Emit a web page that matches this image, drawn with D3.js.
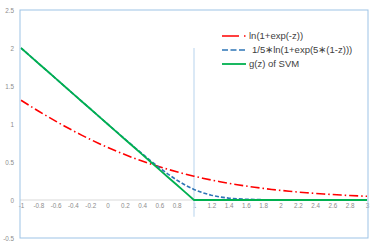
<!DOCTYPE html>
<html>
<head>
<meta charset="utf-8">
<script src="https://cdn.jsdelivr.net/npm/d3@7"></script>
<style>
  body { margin: 0; background: #fff; }
  svg { display: block; font-family: "Liberation Sans", Arial, sans-serif; }
</style>
</head>
<body>
<svg id="chart" width="382" height="245"></svg>
<script>
// categories (z values)
var zVals = [-1, -0.9, -0.8, -0.7, -0.6, -0.5, -0.4, -0.3, -0.2, -0.1, 0,
  0.1, 0.2, 0.3, 0.4, 0.5, 0.6, 0.7, 0.8, 0.9, 1,
  1.1, 1.2, 1.3, 1.4, 1.5, 1.6, 1.7, 1.8, 1.9, 2,
  2.1, 2.2, 2.3, 2.4, 2.5, 2.6, 2.7, 2.8, 2.9, 3];

// ln(1+exp(-z))
var logLoss = [1.313, 1.241, 1.171, 1.103, 1.038, 0.974, 0.913, 0.854, 0.798, 0.744, 0.693,
  0.644, 0.598, 0.554, 0.513, 0.474, 0.438, 0.403, 0.371, 0.341, 0.313,
  0.287, 0.263, 0.241, 0.220, 0.201, 0.184, 0.168, 0.153, 0.139, 0.127,
  0.116, 0.105, 0.096, 0.087, 0.079, 0.072, 0.065, 0.059, 0.054, 0.049];

// 1/5*ln(1+exp(5*(1-z)))
var softLoss = [2.000, 1.900, 1.800, 1.700, 1.600, 1.500, 1.400, 1.300, 1.201, 1.101, 1.001,
  0.902, 0.804, 0.706, 0.610, 0.516, 0.425, 0.340, 0.263, 0.195, 0.139,
  0.095, 0.063, 0.040, 0.025, 0.016, 0.010, 0.006, 0.004, 0.002, 0.001,
  0.001, 0.001, 0, 0, 0, 0, 0, 0, 0, 0];

// g(z) of SVM
var hinge = [2.0, 1.9, 1.8, 1.7, 1.6, 1.5, 1.4, 1.3, 1.2, 1.1, 1.0,
  0.9, 0.8, 0.7, 0.6, 0.5, 0.4, 0.3, 0.2, 0.1, 0,
  0, 0, 0, 0, 0, 0, 0, 0, 0, 0,
  0, 0, 0, 0, 0, 0, 0, 0, 0, 0];

var xTickLabels = ["-1", "-0.8", "-0.6", "-0.4", "-0.2", "0", "0.2", "0.4", "0.6", "0.8", "1",
  "1.2", "1.4", "1.6", "1.8", "2", "2.2", "2.4", "2.6", "2.8", "3"];
var yTicks = [-0.5, 0, 0.5, 1, 1.5, 2, 2.5];
var yTickLabels = ["-0.5", "0", "0.5", "1", "1.5", "2", "2.5"];

// vertical marker at z = 1
var markerZ = 1;
var markerRange = [2, -0.22];

var seriesNames = ["ln(1+exp(-z))", "1/5\u2217ln(1+exp(5\u2217(1-z)))", "g(z) of SVM"];

var svg = d3.select("#chart");

var x = d3.scaleLinear().domain([-1, 3]).range([21, 367]);
var y = d3.scaleLinear().domain([-0.5, 2.5]).range([238, 10]);

// zero line
svg.append("line")
  .attr("x1", 20).attr("x2", 368)
  .attr("y1", y(0)).attr("y2", y(0))
  .attr("stroke", "#d9d9d9").attr("stroke-width", 1);

// x labels (category axis sits on zero)
var xAxis = d3.axisBottom(x)
  .tickValues(xTickLabels.map(Number))
  .tickFormat(function (d, i) { return xTickLabels[i]; })
  .tickSize(0).tickPadding(4);
var gx = svg.append("g").attr("transform", "translate(0," + y(0) + ")").call(xAxis);
gx.select(".domain").remove();
gx.selectAll("text").attr("fill", "#8c8c8c").style("font-size", "6.3px");

// y labels
var yAxis = d3.axisLeft(y)
  .tickValues(yTicks)
  .tickFormat(function (d, i) { return yTickLabels[i]; })
  .tickSize(0).tickPadding(6);
var gy = svg.append("g").attr("transform", "translate(20,0)").call(yAxis);
gy.select(".domain").remove();
gy.selectAll("text").attr("fill", "#8c8c8c").style("font-size", "6.3px");

// marker line
svg.append("line")
  .attr("x1", x(markerZ)).attr("x2", x(markerZ))
  .attr("y1", y(markerRange[0])).attr("y2", y(markerRange[1]))
  .attr("stroke", "#d2e4f4").attr("stroke-width", 1.6);

var line = d3.line()
  .x(function (d, i) { return x(zVals[i]); })
  .y(function (d) { return y(d); });

var styles = [
  { color: "#ff0000", dash: "9,3,1.5,3", width: 1.6 },
  { color: "#2e75b6", dash: "4,2", width: 1.6 },
  { color: "#00b050", dash: null, width: 1.8 }
];
var allSeries = [logLoss, softLoss, hinge];

allSeries.forEach(function (s, k) {
  svg.append("path")
    .datum(s)
    .attr("d", line)
    .attr("fill", "none")
    .attr("stroke", styles[k].color)
    .attr("stroke-width", styles[k].width)
    .attr("stroke-dasharray", styles[k].dash);
});

// plot frame
svg.append("rect")
  .attr("x", 20).attr("y", 10)
  .attr("width", 348).attr("height", 228)
  .attr("fill", "none")
  .attr("stroke", "#9dc3e6").attr("stroke-width", 1);

// legend
var legend = svg.append("g");
var legendY = [36, 50, 64];
seriesNames.forEach(function (name, k) {
  legend.append("line")
    .attr("x1", 222).attr("x2", 246)
    .attr("y1", legendY[k]).attr("y2", legendY[k])
    .attr("stroke", styles[k].color)
    .attr("stroke-width", styles[k].width)
    .attr("stroke-dasharray", k === 0 ? "17,5,1.5,3" : (k === 1 ? "6,2.5" : null));
  legend.append("text")
    .attr("x", k === 1 ? 252 : 249).attr("y", legendY[k])
    .attr("dy", "0.35em")
    .attr("fill", "#404040")
    .style("font-size", "9.5px")
    .text(name);
});
</script>
</body>
</html>
